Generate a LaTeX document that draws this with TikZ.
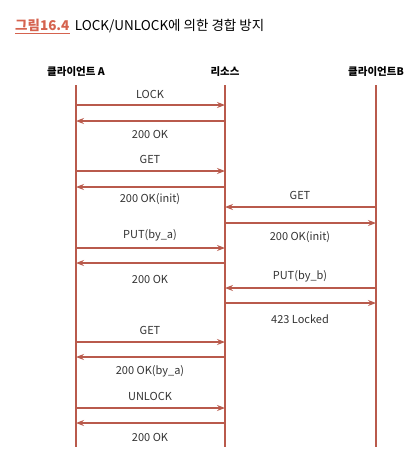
\documentclass[tikz,border=0pt]{standalone}
\usepackage{fontspec}
\setmainfont{Noto Sans CJK KR}
\usetikzlibrary{arrows.meta,positioning}
\definecolor{seqred}{HTML}{B95A4C}
\definecolor{figred}{HTML}{D5634F}
\tikzset{
  lifeline/.style={draw=seqred,line width=1.2pt},
  msg/.style={-{Stealth[length=8pt,width=6pt]},draw=seqred,line width=1.1pt},
  lbl/.style={font=\fontsize{11}{13}\selectfont,text=black!80,inner sep=1pt},
  head/.style={font=\bfseries\fontsize{10.5}{12}\selectfont,inner sep=1pt}
}

\begin{document}
\begin{tikzpicture}[x=1pt,y=-1pt]
\useasboundingbox (0,0) rectangle (418,467);
% title
\node[anchor=base west,inner sep=0pt,text=figred,font=\bfseries\fontsize{13.5}{15}\selectfont] (fignum) at (15,30) {그림16.4};
\node[inner sep=0pt,font=\fontsize{13.5}{15}\selectfont,right=5pt of fignum.base east,anchor=base west] (title) {LOCK/UNLOCK에 의한 경합 방지};
\draw[figred,line width=0.9pt] ([yshift=-3.5pt]fignum.base west) -- ([yshift=-3.5pt]fignum.base east);

% participants
\node[head] (hA) at (76,72) {클라이언트 A};
\node[head] (hR) at (225,72) {리소스};
\node[head] (hB) at (376,72) {클라이언트B};
\coordinate (At) at (76,85);  \coordinate (Ab) at (76,447);
\coordinate (Rt) at (225,85); \coordinate (Rb) at (225,447);
\coordinate (Bt) at (376,85); \coordinate (Bb) at (376,447);
\draw[lifeline] (At) -- (Ab);
\draw[lifeline] (Rt) -- (Rb);
\draw[lifeline] (Bt) -- (Bb);

% message ends on the lifelines
\foreach \y [count=\i] in {105,121,171,187,248,263,342,357,408,423} {
  \coordinate (a\i) at (76,\y);
  \coordinate (r\i) at (225,\y);
}
\foreach \y [count=\i] in {207,223,288,303} {
  \coordinate (s\i) at (225,\y);
  \coordinate (b\i) at (376,\y);
}

% client A
\draw[msg] (a1) -- (r1);
\draw[msg] (r2) -- (a2);
\draw[msg] (a3) -- (r3);
\draw[msg] (r4) -- (a4);
\draw[msg] (a5) -- (r5);
\draw[msg] (r6) -- (a6);
\draw[msg] (a7) -- (r7);
\draw[msg] (r8) -- (a8);
\draw[msg] (a9) -- (r9);
\draw[msg] (r10) -- (a10);
\node[lbl] (m1) at (150,94) {LOCK};
\node[lbl] (m2) at (150,134) {200 OK};
\node[lbl] (m3) at (150,159) {GET};
\node[lbl] (m4) at (150,199) {200 OK(init)};
\node[lbl] (m5) at (150,235) {PUT(by\_a)};
\node[lbl] (m6) at (150,279) {200 OK};
\node[lbl] (m7) at (150,330) {GET};
\node[lbl] (m8) at (150,371) {200 OK(by\_a)};
\node[lbl] (m9) at (150,396) {UNLOCK};
\node[lbl] (m10) at (150,437) {200 OK};

% client B
\draw[msg] (b1) -- (s1);
\draw[msg] (s2) -- (b2);
\draw[msg] (b3) -- (s3);
\draw[msg] (s4) -- (b4);
\node[lbl] (n1) at (300,195) {GET};
\node[lbl] (n2) at (300,237) {200 OK(init)};
\node[lbl] (n3) at (300,276) {PUT(by\_b)};
\node[lbl] (n4) at (300,319) {423 Locked};
\end{tikzpicture}
\end{document}
